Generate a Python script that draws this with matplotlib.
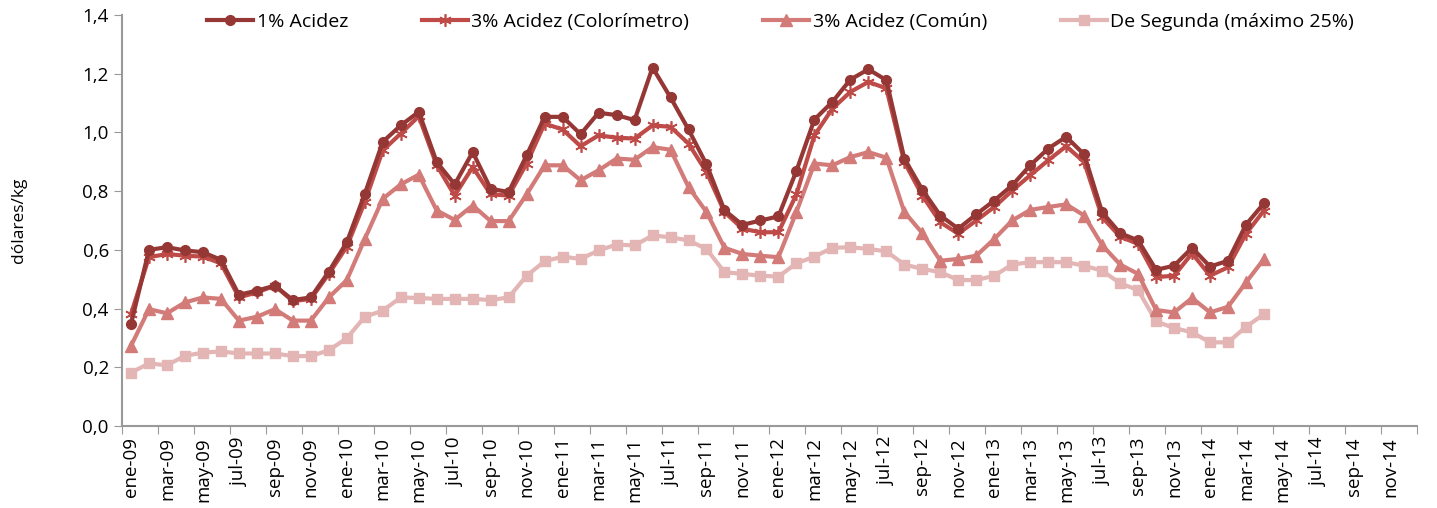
import numpy as np
import matplotlib.pyplot as plt
from matplotlib.ticker import FixedLocator, FuncFormatter

plt.rcParams['font.family'] = ['Open Sans', 'DejaVu Sans']

# meses ene-09 .. dic-14 (eje), datos ene-09 .. abr-14
meses_es = ['ene', 'feb', 'mar', 'abr', 'may', 'jun', 'jul', 'ago', 'sep', 'oct', 'nov', 'dic']
years = ['09', '10', '11', '12', '13', '14']
categorias = [f"{m}-{y}" for y in years for m in meses_es]

acidez_1 = [0.347, 0.600, 0.609, 0.598, 0.592, 0.566, 0.447, 0.461, 0.478, 0.429, 0.438, 0.526,
            0.626, 0.791, 0.968, 1.024, 1.070, 0.899, 0.823, 0.933, 0.808, 0.797, 0.922, 1.053,
            1.053, 0.994, 1.067, 1.059, 1.042, 1.221, 1.119, 1.010, 0.891, 0.735, 0.685, 0.700,
            0.714, 0.869, 1.044, 1.104, 1.180, 1.215, 1.178, 0.911, 0.805, 0.717, 0.672, 0.721,
            0.768, 0.820, 0.888, 0.945, 0.985, 0.925, 0.728, 0.657, 0.632, 0.532, 0.546, 0.607,
            0.543, 0.563, 0.686, 0.759]
acidez_3_color = [0.381, 0.575, 0.586, 0.580, 0.577, 0.554, 0.438, 0.455, 0.478, 0.425, 0.433, 0.518,
                  0.611, 0.763, 0.939, 0.996, 1.055, 0.888, 0.785, 0.882, 0.789, 0.785, 0.894, 1.030,
                  1.010, 0.953, 0.990, 0.982, 0.979, 1.024, 1.019, 0.962, 0.865, 0.729, 0.672, 0.660,
                  0.660, 0.789, 0.990, 1.081, 1.138, 1.172, 1.150, 0.899, 0.785, 0.694, 0.655, 0.700,
                  0.746, 0.802, 0.854, 0.905, 0.953, 0.899, 0.711, 0.645, 0.620, 0.507, 0.512, 0.588,
                  0.512, 0.541, 0.655, 0.734]
acidez_3_comun = [0.273, 0.398, 0.384, 0.421, 0.438, 0.433, 0.359, 0.372, 0.398, 0.359, 0.359, 0.438,
                  0.497, 0.637, 0.774, 0.823, 0.856, 0.734, 0.702, 0.751, 0.698, 0.698, 0.789, 0.888,
                  0.888, 0.837, 0.871, 0.911, 0.907, 0.950, 0.941, 0.814, 0.729, 0.607, 0.586, 0.580,
                  0.575, 0.729, 0.894, 0.888, 0.916, 0.933, 0.914, 0.729, 0.657, 0.563, 0.569, 0.580,
                  0.637, 0.700, 0.736, 0.746, 0.755, 0.717, 0.616, 0.550, 0.518, 0.395, 0.387, 0.436,
                  0.387, 0.406, 0.489, 0.569]
segunda = [0.182, 0.213, 0.207, 0.239, 0.250, 0.254, 0.247, 0.247, 0.247, 0.238, 0.238, 0.258,
           0.299, 0.372, 0.393, 0.438, 0.436, 0.433, 0.433, 0.433, 0.429, 0.438, 0.512, 0.561,
           0.577, 0.569, 0.598, 0.618, 0.615, 0.649, 0.643, 0.632, 0.603, 0.524, 0.518, 0.512,
           0.509, 0.554, 0.577, 0.607, 0.609, 0.603, 0.595, 0.550, 0.535, 0.524, 0.497, 0.497,
           0.512, 0.550, 0.558, 0.558, 0.558, 0.546, 0.529, 0.486, 0.463, 0.356, 0.334, 0.319,
           0.285, 0.285, 0.338, 0.381]

fig = plt.figure(figsize=(14.37, 5.08), dpi=100)
ax = fig.add_axes([0.0849, 0.1614, 0.9011, 0.8091])

x = np.arange(len(acidez_1))
lw = 3.0
ax.plot(x, acidez_1, color='#953735', lw=lw, marker='o', ms=7, label='1% Acidez', zorder=5)
ax.plot(x, acidez_3_color, color='#BE4B48', lw=lw, marker=(6, 2, 0), ms=9, mew=1.2,
        label='3% Acidez (Colorímetro)', zorder=4)
ax.plot(x, acidez_3_comun, color='#D27B79', lw=lw, marker='^', ms=8,
        label='3% Acidez (Común)', zorder=3)
ax.plot(x, segunda, color='#E3B5B4', lw=lw, marker='s', ms=7,
        label='De Segunda (máximo 25%)', zorder=2)

ax.set_xlim(-0.5, len(categorias) - 0.5)
ax.set_ylim(0, 1.4)
ax.set_yticks(np.arange(0, 1.41, 0.2))
ax.yaxis.set_major_formatter(FuncFormatter(lambda v, p: f"{v:.1f}".replace('.', ',')))

# ticks en los bordes de categoría, etiquetas cada dos meses en el centro
ax.xaxis.set_major_locator(FixedLocator(np.arange(-0.5, len(categorias), 2)))
ax.xaxis.set_minor_locator(FixedLocator(np.arange(0, len(categorias), 2)))
ax.set_xticklabels([])
ax.set_xticklabels(categorias[::2], minor=True, rotation=90)
ax.tick_params(axis='x', which='major', length=6, color='#999999', direction='out')
ax.tick_params(axis='x', which='minor', length=0, labelsize=13.5, pad=8)
ax.tick_params(axis='y', length=6, color='#999999', labelsize=13.5)

for s in ['top', 'right']:
    ax.spines[s].set_visible(False)
for s in ['left', 'bottom']:
    ax.spines[s].set_color('#999999')
    ax.spines[s].set_linewidth(1.5)

ax.set_ylabel('dólares/kg', fontsize=12.5)
ax.yaxis.set_label_coords(-0.073, 0.5)

fig.legend(loc='center left', bbox_to_anchor=(207 / 1437, 1 - 22 / 508), ncol=4,
           frameon=False, fontsize=14, handlelength=2.35, handletextpad=0.2,
           columnspacing=3.8, borderpad=0, borderaxespad=0)

fig.savefig('out.png', dpi=100)
